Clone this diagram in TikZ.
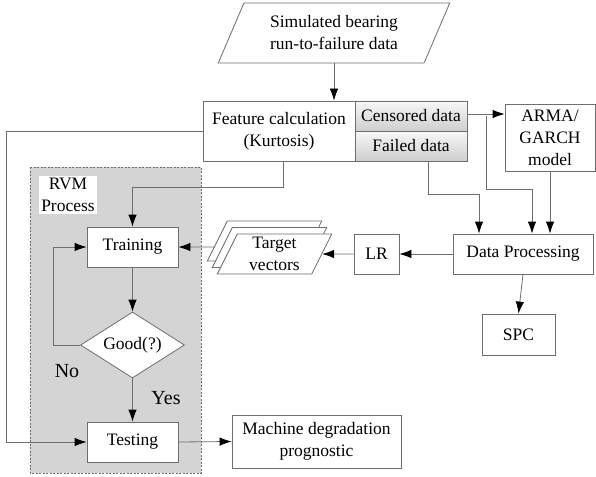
\documentclass[tikz,border=0pt]{standalone}
\usepackage{fontspec}
\setmainfont{Liberation Serif}
\usetikzlibrary{arrows.meta,shapes.geometric,shadows}

\definecolor{boxgray}{RGB}{110,110,110}
\definecolor{regiongray}{RGB}{212,212,212}

\tikzset{
  box/.style={draw=boxgray, line width=0.8pt, fill=white, inner sep=0pt, align=center},
  cell/.style={box, top color=gray!6, bottom color=gray!38},
  slanted/.style={box, trapezium, trapezium stretches=true},
  decision/.style={box, diamond, aspect=1.6},
  flow/.style={draw=boxgray, line width=0.8pt, -{Latex[length=12pt,width=8.5pt,black]}},
  answer/.style={font=\fontsize{20}{24}\selectfont},
}

\begin{document}
\begin{tikzpicture}[x=1pt, y=-1pt, font=\fontsize{17.5}{22}\selectfont]

\useasboundingbox (0,0) rectangle (596,476);

% RVM REGION
\fill[regiongray] (30,167) rectangle (201,473);
\draw[boxgray, dashed, line width=0.6pt, dash pattern=on 2pt off 1.5pt] (30,167) rectangle (201,473);
\node[fill=white, inner sep=2pt, align=center] (rvm) at (68,195) {RVM\\Process};

% TOP ROW
\node[slanted, trapezium left angle=62, trapezium right angle=118,
      minimum width=232pt, minimum height=60pt] (sim) at (334,33)
      {Simulated bearing\\run-to-failure data};
\node[box, minimum width=152pt, minimum height=60pt] (feat) at (279,131)
      {Feature calculation\\(Kurtosis)};
\node[cell, minimum width=112pt, minimum height=30pt] (cens) at (411,116) {Censored data};
\node[cell, minimum width=112pt, minimum height=30pt] (fail) at (411,146) {Failed data};
\node[box, minimum width=90pt, minimum height=67pt] (arma) at (550,137.5)
      {ARMA/\\GARCH\\model};

% MIDDLE ROW
\node[box, minimum width=140pt, minimum height=40pt] (dp) at (523,254) {Data Processing};
\node[box, minimum width=45pt, minimum height=40pt] (lr) at (376.5,254) {LR};
\node[slanted, trapezium left angle=68, trapezium right angle=112,
      minimum width=115pt, minimum height=40pt,
      double copy shadow={shadow xshift=-5pt, shadow yshift=6.5pt, fill=white, draw=boxgray}]
      (target) at (274.5,254) {Target\\vectors};
\node[box, minimum width=73pt, minimum height=41pt] (spc) at (518.5,334.5) {SPC};

% RVM BLOCKS
\node[box, minimum width=91pt, minimum height=40pt] (train) at (132.5,247) {Training};
\node[decision, minimum width=104pt, minimum height=66pt] (good) at (132.5,345) {Good(?)};
\node[box, minimum width=91pt, minimum height=40pt] (test) at (132.5,442) {Testing};
\node[box, minimum width=169pt, minimum height=53pt] (mach) at (316.5,441.5)
      {Machine degradation\\prognostic};

% LABELS
\node[answer] (no) at (67,371) {No};
\node[answer] (yes) at (166,398) {Yes};

% CONNECTORS
\draw[flow] (sim.south) -- (sim.south |- cens.north);
\draw[flow] ([yshift=2pt]cens.east) -- ([yshift=2pt]cens.east -| arma.west);
\draw[flow] ([xshift=19pt]cens.east) -- ++(0,73) -| ([xshift=9pt]dp.north);
\draw[flow] (arma.south) -- (arma.south |- dp.north);
\draw[flow] ([xshift=17pt]fail.south) -- ++(0,33) -| ([xshift=-44pt]dp.north);
\draw[flow] (dp.west) -- (lr.east);
\draw[flow] (lr.west) -- (target.east);
\draw[flow] ([xshift=-12pt, yshift=7pt]target.west) -- (train.east);
\draw[flow] (dp.south) -- (spc.north);
\draw[flow] ([xshift=4pt]feat.south) -- ++(0,26) -| (train.north);
\draw[flow] (train.south) -- (good.north);
\draw[flow] (good.west) -- ++(-27,0) |- (train.west);
\draw[flow] (good.south) -- (test.north);
\draw[flow] (feat.west) -- ++(-196,0) |- (test.west);
\draw[flow] (test.east) -- (mach.west);

\end{tikzpicture}
\end{document}
